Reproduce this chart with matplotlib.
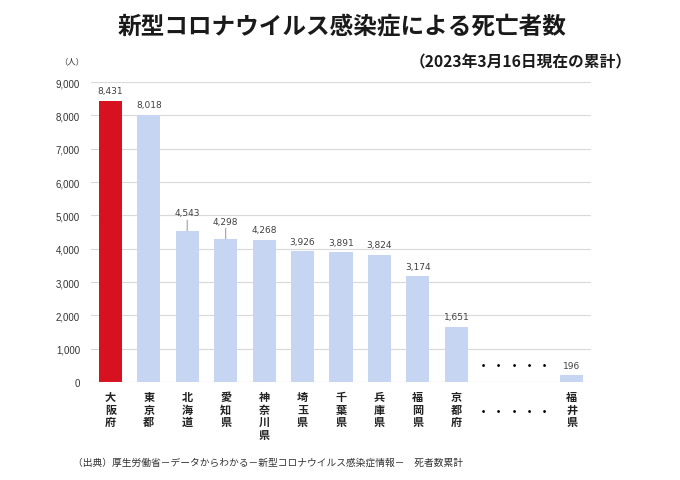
import matplotlib.pyplot as plt
import numpy as np

plt.rcParams['font.family'] = ['Noto Sans CJK JP', 'DejaVu Sans']

# data
prefs = ['大阪府', '東京都', '北海道', '愛知県', '神奈川県',
         '埼玉県', '千葉県', '兵庫県', '福岡県', '京都府']
deaths = [8431, 8018, 4543, 4298, 4268, 3926, 3891, 3824, 3174, 1651]
last_pref = '福井県'
last_deaths = 196
yticks = np.arange(0, 9001, 1000)

# extra lift (points) for labels drawn with a leader line
lifted = {'北海道': 5.5, '愛知県': 5.5}

red = '#d7111f'
blue = '#c6d6f2'
grey = '#404040'

gap = 2  # empty slots used for the dotted "..." part
x = np.arange(len(prefs))
x_last = len(prefs) + gap
xs = list(x) + [x_last]
names = prefs + [last_pref]
vals = deaths + [last_deaths]
colors = [red] + [blue] * (len(xs) - 1)

fig = plt.figure(figsize=(6.8, 4.81), dpi=100)
ax = fig.add_axes([0.134, 0.2037, 0.735, 0.6237])

ax.bar(xs, vals, width=0.6, color=colors, zorder=3)

for xi, name, v in zip(xs, names, vals):
    lift = lifted.get(name, 0)
    if lift:
        ax.annotate(f'{v:,}', xy=(xi, v), xytext=(0, 4 + lift),
                    textcoords='offset points', ha='center', va='bottom',
                    fontsize=6.5, color=grey, family='DejaVu Sans',
                    arrowprops=dict(arrowstyle='-', color='#a0a0a0', lw=0.8,
                                    shrinkA=0, shrinkB=0))
    else:
        ax.annotate(f'{v:,}', xy=(xi, v), xytext=(0, 4),
                    textcoords='offset points', ha='center', va='bottom',
                    fontsize=6.5, color=grey, family='DejaVu Sans')

ax.set_xlim(-0.5, x_last + 0.5)
ax.set_ylim(0, 9000)
ax.set_yticks(yticks)
ax.set_yticklabels([f'{t:,}' for t in yticks], fontsize=7, color='#333333',
                   family='Liberation Sans')
ax.set_xticks(xs)
ax.set_xticklabels(['\n'.join(n) for n in names], fontsize=8, fontweight='bold',
                   color='#222222', linespacing=0.95, va='top')
ax.tick_params(length=0, pad=8)
ax.tick_params(axis='x', pad=6)

ax.grid(axis='y', color='#d9d9d9', lw=0.8, zorder=0)
for s in ax.spines.values():
    s.set_visible(False)
ax.axhline(0, color='#d9d9d9', lw=0.8, zorder=4)

# dotted gap markers, in the plot and in the label row
dot_x = np.linspace(len(prefs) - 0.3, x_last - 0.7, 5)
for dx in dot_x:
    ax.text(dx, 500, '・', ha='center', va='center', fontsize=8, fontweight='bold')
    ax.text(dx, -880, '・', ha='center', va='center', fontsize=8, fontweight='bold')

fig.text(0.503, 0.944, '新型コロナウイルス感染症による死亡者数', ha='center', va='center',
         fontsize=17, fontweight='bold', color='#1a1a1a')
fig.text(0.765, 0.871, '（2023年3月16日現在の累計）', ha='center', va='center',
         fontsize=11.3, fontweight='bold', color='#1a1a1a')
fig.text(0.105, 0.871, '（人）', ha='center', va='center', fontsize=6, color='#333333')
fig.text(0.107, 0.038, '（出典）厚生労働省－データからわかる－新型コロナウイルス感染症情報－　死者数累計',
         ha='left', va='center', fontsize=7, color='#333333')

fig.savefig('out.png', dpi=100, facecolor='white')
